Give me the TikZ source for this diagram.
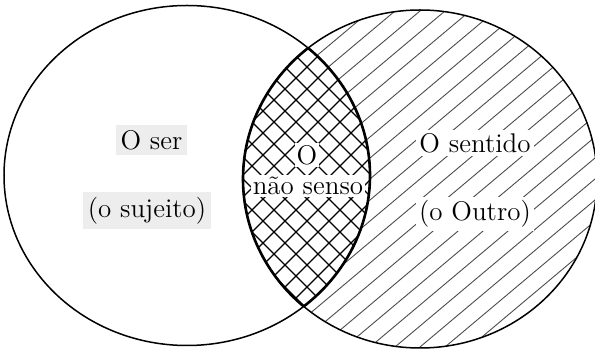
\documentclass[tikz,border=0pt]{standalone}
\tikzset{
  ring/.style={line width=0.75pt},
  lensedge/.style={line width=1.3pt},
  hatchline/.style={line width=0.45pt, black!70},
  crossline/.style={line width=0.6pt},
  tag/.style={font=\fontsize{13.5}{16}\selectfont, inner sep=2.5pt},
}
\begin{document}
\begin{tikzpicture}[x=0.5pt,y=-0.5pt]
  \useasboundingbox (0,0) rectangle (595,351);
  % centres of the two sets (ser on the left, sentido on the right)
  \coordinate (L) at (187,175.5);
  \coordinate (R) at (420,179);
  \coordinate (M) at (307,177);

  % single hatching of the right set
  \begin{scope}
    \clip (R) ellipse [x radius=177, y radius=169];
    \foreach \k in {-17,...,17}
      \draw[hatchline, shift={(R)}] (\k*25-300,252) -- ++(600,-504);
  \end{scope}

  % cross hatching of the intersection
  \begin{scope}
    \clip (R) ellipse [x radius=177, y radius=169];
    \clip (L) ellipse [x radius=183, y radius=170];
    \fill[white] (0,0) rectangle (595,351);
    \foreach \k in {-11,...,11} {
      \draw[crossline, shift={(M)}] (\k*22-220,220) -- ++(440,-440);
      \draw[crossline, shift={(M)}] (\k*22-220,-220) -- ++(440,440);
    }
  \end{scope}

  % Labels
  \node[tag, fill=black!7] (ser) at (151.5,140) {O ser};
  \node[tag, fill=black!7] (sujeito) at (147,210.5) {(o sujeito)};
  \node[tag, fill=white, inner sep=1pt] (o) at (307,155) {O};
  \node[tag, fill=white, inner sep=1pt] (naosenso) at (308,186) {não senso};
  \node[tag, fill=white, inner sep=1.5pt] (sentido) at (475,143) {O sentido};
  \node[tag, fill=white, inner sep=1.5pt] (outro) at (475,214) {(o Outro)};

  % outlines of the two sets
  \draw[ring] (L) ellipse [x radius=183, y radius=170];
  \draw[ring] (R) ellipse [x radius=177, y radius=169];

  % thicker edge of the intersection
  \begin{scope}
    \clip (R) ellipse [x radius=177, y radius=169];
    \draw[lensedge] (L) ellipse [x radius=183, y radius=170];
  \end{scope}
  \begin{scope}
    \clip (L) ellipse [x radius=183, y radius=170];
    \draw[lensedge] (R) ellipse [x radius=177, y radius=169];
  \end{scope}
\end{tikzpicture}
\end{document}
